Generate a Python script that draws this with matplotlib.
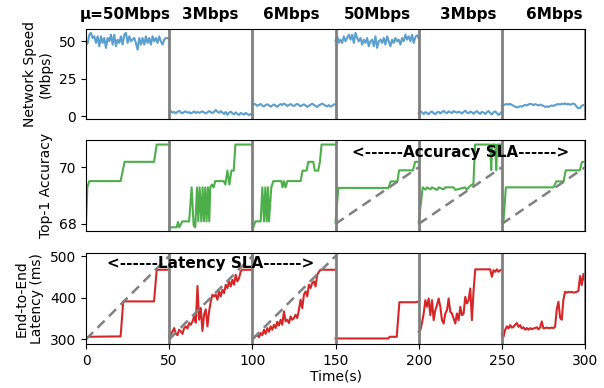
import matplotlib.pyplot as plt
import numpy as np

# Segment boundaries (s) and bandwidth labels shown above each segment
seg_starts = [0, 50, 100, 150, 200, 250]
seg_labels = ['μ=50Mbps', '3Mbps', '6Mbps', '50Mbps', '3Mbps', '6Mbps']
label_x = [23.4, 74.9, 123.5, 175, 229.7, 281.4]

# Network speed (Mbps), one sample per second in each 50 s segment
speed = [
    [47.5, 48.9, 54.4, 55.6, 52.2, 53.3, 48.9, 53.3, 46.7, 53.3, 48.9, 52.2, 45.6, 52.2, 50.0, 54.4, 47.8,
     54.4, 46.7, 51.1, 48.9, 53.3, 47.8, 54.4, 55.6, 48.9, 53.3, 50.0, 51.1, 52.2, 48.9, 44.4, 52.2, 47.8,
     52.2, 47.8, 53.3, 48.9, 52.2, 47.8, 53.3, 50.0, 52.2, 48.9, 53.3, 50.0, 47.8, 51.1, 52.2, 52.2, 51.5],
    [4.2, 3.5, 2.4, 2.9, 2.0, 3.0, 3.6, 2.6, 2.0, 2.9, 3.3, 2.4, 2.8, 1.9, 2.6, 3.2, 2.2, 2.9, 2.3, 2.8,
     3.3, 2.5, 1.9, 2.7, 3.4, 2.8, 2.2, 3.0, 4.2, 3.0, 2.3, 3.5, 2.4, 1.6, 2.9, 1.0, 2.4, 3.1, 2.0, 1.3,
     2.6, 1.6, 0.9, 2.2, 1.7, 1.1, 2.3, 1.5, 0.8, 1.6, 1.2],
    [7.6, 8.4, 7.8, 7.0, 7.6, 8.2, 7.1, 6.6, 7.5, 8.0, 7.3, 6.4, 7.2, 7.9, 7.0, 6.3, 7.4, 8.1, 7.6, 8.5,
     7.8, 6.9, 7.6, 8.2, 7.3, 6.8, 7.7, 8.3, 7.5, 6.7, 7.4, 8.0, 7.2, 6.3, 7.0, 7.8, 8.4, 7.6, 6.9, 6.2,
     7.3, 7.9, 8.5, 7.8, 7.1, 6.6, 7.5, 6.4, 7.0, 7.8, 8.2],
    [50.5, 53.5, 49.0, 51.1, 48.9, 53.3, 50.0, 52.2, 54.4, 51.1, 54.4, 48.9, 55.6, 52.2, 50.0, 52.2, 47.8,
     51.1, 48.9, 52.2, 46.7, 50.0, 51.1, 46.7, 53.3, 45.6, 50.0, 51.1, 48.9, 52.2, 47.8, 53.3, 50.0, 46.7,
     51.1, 48.9, 52.2, 50.0, 51.1, 47.8, 52.2, 50.0, 54.4, 51.1, 53.3, 50.0, 54.4, 48.9, 52.8, 54.0, 52.0],
    [2.0, 3.4, 2.6, 1.5, 2.8, 2.2, 1.3, 2.7, 3.2, 2.0, 1.4, 2.6, 3.0, 1.9, 2.8, 3.6, 2.6, 2.1, 3.3, 2.7,
     2.2, 3.5, 2.9, 2.4, 3.1, 2.6, 1.8, 3.0, 3.7, 2.5, 2.0, 3.2, 2.6, 1.7, 2.8, 3.4, 2.3, 1.6, 3.0, 2.5,
     1.5, 2.8, 3.5, 2.1, 1.2, 2.7, 3.3, 2.0, 0.9, 1.8, 3.2],
    [6.9, 7.4, 7.9, 8.2, 7.8, 8.3, 7.6, 7.0, 6.4, 5.9, 6.2, 6.8, 6.4, 7.1, 7.6, 7.2, 7.9, 8.3, 8.0, 7.5,
     8.1, 7.7, 7.2, 7.8, 7.4, 6.9, 6.3, 6.6, 6.2, 6.8, 7.2, 6.9, 7.5, 7.9, 8.2, 7.8, 8.4, 8.1, 8.6, 7.9,
     8.3, 7.7, 8.2, 8.5, 7.9, 6.3, 5.3, 5.6, 7.0, 7.5, 7.2],
]

# Top-1 accuracy: (time within segment, accuracy) change points
acc_t = [
    [0, 0.8, 2, 20.8, 23.2, 40.9, 42.5, 50],
    [0, 4.5, 5.3, 6.1, 7.9, 12, 13.5, 14.7, 15.7, 16.7, 17.5, 18.3, 19.3, 20.1, 20.9, 21.7, 22.5,
     23.3, 24.1, 24.7, 25.7, 26.7, 27.7, 32.8, 33.8, 35, 36.2, 37.4, 38.8, 39.8, 50],
    [0, 0.6, 1.8, 5, 6, 7, 7.8, 8.6, 9.4, 10, 11.4, 12.6, 17.4, 18.2, 19, 20, 21, 29, 30.2, 32.6,
     33.6, 36.6, 37.6, 39.6, 40.6, 41.6, 50],
    [0, 1.7, 31.8, 33.2, 37.2, 38.2, 46.5, 47.9, 50],
    [0, 2.4, 4, 5, 7, 8, 11, 12, 15, 16, 21, 22, 27.9, 28.9, 30.9, 31.9, 32.9, 33.9, 43, 43.6, 44.2,
     46, 46.6, 47.2, 50],
    [0, 1, 2.4, 31.1, 32.7, 37.1, 38.4, 46.8, 48.2, 50],
]
acc_v = [
    [68.03, 69.3, 69.51, 69.51, 70.19, 70.19, 70.8, 70.8],
    [67.88, 67.88, 68.07, 67.88, 68.09, 68.09, 69.29, 67.95, 67.88, 69.29, 68.09, 69.29, 68.09, 69.29,
     68.09, 69.29, 68.09, 69.29, 68.09, 69.29, 69.39, 69.29, 69.51, 69.51, 69.39, 69.88, 69.39, 69.88,
     69.88, 70.8, 70.8],
    [67.88, 67.88, 68.09, 68.09, 69.29, 68.09, 69.29, 68.09, 69.29, 68.09, 69.29, 69.51, 69.51, 69.29,
     69.51, 69.29, 69.51, 69.51, 69.88, 69.88, 70.19, 70.19, 69.88, 69.88, 70.19, 70.8, 70.8],
    [68.05, 69.27, 69.27, 69.5, 69.5, 69.89, 69.89, 70.19, 70.19],
    [68.05, 69.29, 69.21, 69.29, 69.22, 69.29, 69.2, 69.29, 69.22, 69.29, 69.29, 69.2, 69.29, 69.21,
     69.34, 69.38, 69.41, 70.8, 70.8, 69.9, 70.8, 70.8, 69.9, 70.8, 70.8],
    [68.09, 68.09, 69.29, 69.29, 69.5, 69.5, 69.89, 69.89, 70.19, 70.19],
]

# End-to-end latency (ms): change points for the flat segments, 1 s samples otherwise
lat_t = [
    [0, 1, 20.8, 22.4, 40.9, 42.5, 50],
    list(range(51)),
    list(range(51)),
    [0, 31.8, 32.5, 36.8, 38.4, 48.4, 50],
    list(range(51)),
    list(range(51)),
]
lat_v = [
    [302, 306, 307, 391, 391, 467, 467],
    [307, 312, 319, 327, 313, 310, 323, 319, 313, 327, 331, 326, 339, 335, 343, 355, 340, 428, 347, 375,
     320, 360, 372, 331, 367, 391, 407, 403, 407, 395, 415, 403, 419, 411, 431, 423, 439, 427, 443, 431,
     455, 439, 447, 463, 467, 467, 467, 467, 467, 467, 467],
    [302, 303, 308, 310, 305, 315, 310, 323, 313, 327, 318, 331, 323, 335, 327, 342, 333, 347, 335, 367,
     343, 347, 339, 355, 347, 351, 359, 351, 371, 395, 375, 407, 415, 403, 431, 423, 435, 439, 427, 455,
     462, 467, 467, 467, 467, 467, 467, 467, 467, 467, 467],
    [302, 302, 306, 306, 389, 389, 391],
    [318, 322, 340, 362, 394, 378, 398, 358, 394, 346, 370, 382, 398, 378, 346, 338, 362, 370, 398, 366,
     362, 350, 338, 362, 346, 378, 358, 362, 402, 386, 394, 422, 346, 418, 468, 468, 468, 468, 468, 468,
     468, 468, 468, 468, 450, 466, 462, 468, 462, 466, 466],
    [312, 306, 323, 331, 326, 334, 328, 330, 335, 339, 330, 334, 326, 329, 323, 327, 323, 327, 324, 326,
     327, 329, 324, 328, 343, 326, 327, 328, 327, 327, 328, 327, 330, 372, 390, 352, 347, 395, 414, 412,
     414, 413, 414, 412, 413, 414, 416, 452, 430, 457, 438],
]

# SLA ramps drawn across a segment (start value, end value)
lat_sla = (300, 500)
acc_sla = (68, 70)
lat_sla_segs = [0, 1, 2]
acc_sla_segs = [3, 4, 5]

fig = plt.figure(figsize=(6.04, 3.88), dpi=100)
left, width = 0.1424, 0.8262
ax1 = fig.add_axes([left, 0.6933, width, 0.232])
ax2 = fig.add_axes([left, 0.4039, width, 0.2345])
ax3 = fig.add_axes([left, 0.1134, width, 0.2345])

blue, green, red = '#5b9fcf', '#4daf4a', '#d62728'

for i, s in enumerate(seg_starts):
    t = s + np.linspace(0, 50, len(speed[i]))
    ax1.plot(t, speed[i], color=blue, lw=1.5)
    ax2.plot(s + np.array(acc_t[i]), acc_v[i], color=green, lw=1.5)
    ax3.plot(s + np.array(lat_t[i]), lat_v[i], color=red, lw=1.5)

for i in lat_sla_segs:
    s = seg_starts[i]
    ax3.plot([s, s + 50], lat_sla, color='gray', ls='--', lw=1.8, dashes=(4, 2.5))
for i in acc_sla_segs:
    s = seg_starts[i]
    ax2.plot([s, s + 50], acc_sla, color='gray', ls='--', lw=1.8, dashes=(4, 2.5))

for ax in (ax1, ax2, ax3):
    for s in seg_starts[1:] + [300]:
        ax.axvline(s, color='gray', lw=2)
    ax.set_xlim(0, 300)
    ax.tick_params(labelsize=10)

ax1.set_ylim(-1.8, 58.2)
ax1.set_yticks([0, 25, 50])
ax2.set_ylim(67.74, 70.95)
ax2.set_yticks([68, 70])
ax3.set_ylim(288.7, 507.2)
ax3.set_yticks([300, 400, 500])
ax1.set_xticks([])
ax2.set_xticks([])
ax3.set_xticks(np.arange(0, 301, 50))

ax1.set_ylabel('Network Speed\n(Mbps)', fontsize=10)
ax2.set_ylabel('Top-1 Accuracy', fontsize=10)
ax3.set_ylabel('End-to-End\nLatency (ms)', fontsize=10)
ax3.set_xlabel('Time(s)', fontsize=10, labelpad=1)

for x, lab in zip(label_x, seg_labels):
    ax1.text(x, 1.16, lab, transform=ax1.get_xaxis_transform(), ha='center', va='center',
             fontsize=11, fontweight='bold')

ax2.text(225, 70.53, '<------Accuracy SLA------>', ha='center', va='center',
         fontsize=11, fontweight='bold')
ax3.text(75, 483, '<------Latency SLA------>', ha='center', va='center',
         fontsize=11, fontweight='bold')

fig.savefig('out.png', dpi=100)
